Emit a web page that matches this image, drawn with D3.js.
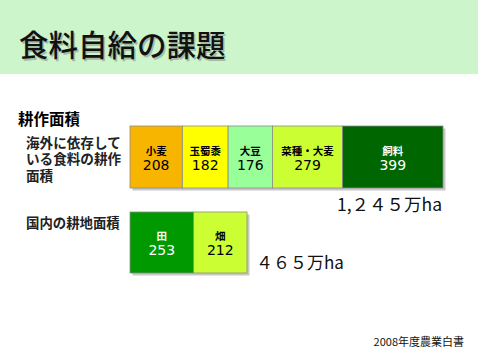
<!DOCTYPE html>
<html><head><meta charset="utf-8">
<script src="https://cdn.jsdelivr.net/npm/d3@7"></script>
<style>body{margin:0;background:#fff}svg{display:block}</style>
</head><body>
<script>
const importCats = ["小麦","玉蜀黍","大豆","菜種・大麦","飼料"];
const importVals = [208,182,176,279,399];
const importColors = ["#f8b500","#ffff00","#99ff99","#ccff33","#006600"];
const importText = ["#000","#000","#000","#000","#fff"];
const domesticCats = ["田","畑"];
const domesticVals = [253,212];
const domesticColors = ["#009900","#ccff33"];
const domesticText = ["#fff","#000"];
const totalLabels = ["1,２４５万ha","４６５万ha"];

const W=478,H=358;
const svg=d3.select("body").append("svg").attr("width",W).attr("height",H);
const cjk='"Noto Sans CJK JP", sans-serif';
const num='"DejaVu Sans", sans-serif';

svg.append("rect").attr("x",0).attr("y",0).attr("width",W).attr("height",74).attr("fill","#ccf5cc");
svg.append("text").attr("x",19).attr("y",56).attr("font-family",cjk).attr("font-size",29.5).attr("font-weight",500)
  .attr("fill","#777").attr("opacity",0.45).attr("transform","translate(1.5,1.5)").text("食料自給の課題");
svg.append("text").attr("x",19).attr("y",56).attr("font-family",cjk).attr("font-size",29.5).attr("font-weight",500)
  .attr("fill","#111").text("食料自給の課題");

svg.append("text").attr("x",18).attr("y",125).attr("font-family",cjk).attr("font-size",15.5).attr("font-weight","bold").text("耕作面積");
const ml=svg.append("text").attr("x",26).attr("y",148).attr("font-family",cjk).attr("font-size",13.6).attr("font-weight","bold").attr("fill","#222");
["海外に依存して","いる食料の耕作","面積"].forEach((t,i)=>{
  ml.append("tspan").attr("x",26).attr("dy",i===0?0:16.3).text(t);
});
svg.append("text").attr("x",26).attr("y",228).attr("font-family",cjk).attr("font-size",13.4).attr("font-weight","bold").attr("fill","#222").text("国内の耕地面積");

const x=d3.scaleLinear().domain([0,d3.sum(importVals)]).range([130,443]);

function drawBar(cats,vals,colors,textCols,y0,h){
  let cum=[0];vals.forEach((v,i)=>cum.push(cum[i]+v));
  const g=svg.append("g");
  g.append("rect").attr("x",x(0)+2.5).attr("y",y0+2.5).attr("width",x(cum[cum.length-1])-x(0)).attr("height",h).attr("fill","#c8c8c8");
  cats.forEach((c,i)=>{
    const x0=x(cum[i]),x1=x(cum[i+1]),cx=(x0+x1)/2;
    g.append("rect").attr("x",x0).attr("y",y0).attr("width",x1-x0).attr("height",h)
      .attr("fill",colors[i]).attr("stroke","#8a8a8a").attr("stroke-width",0.8);
    g.append("text").attr("x",cx).attr("y",y0+h/2-2.5).attr("text-anchor","middle").attr("font-family",cjk)
      .attr("font-size",10.5).attr("font-weight","bold").attr("fill",textCols[i]).text(c);
    g.append("text").attr("x",cx).attr("y",y0+h/2+12.5).attr("text-anchor","middle").attr("font-family",num)
      .attr("font-size",14).attr("fill",textCols[i]).text(vals[i]);
  });
}
drawBar(importCats,importVals,importColors,importText,126,62);
drawBar(domesticCats,domesticVals,domesticColors,domesticText,212,61);

svg.append("text").attr("x",442).attr("y",211).attr("text-anchor","end").attr("font-family",cjk).attr("font-size",17.5).attr("fill","#111").text(totalLabels[0]);
svg.append("text").attr("x",256).attr("y",269).attr("font-family",cjk).attr("font-size",17).attr("fill","#111").text(totalLabels[1]);

svg.append("text").attr("x",464).attr("y",346).attr("text-anchor","end").attr("font-family",cjk).attr("font-size",11).attr("fill","#111").text("2008年度農業白書");
</script>
</body></html>
